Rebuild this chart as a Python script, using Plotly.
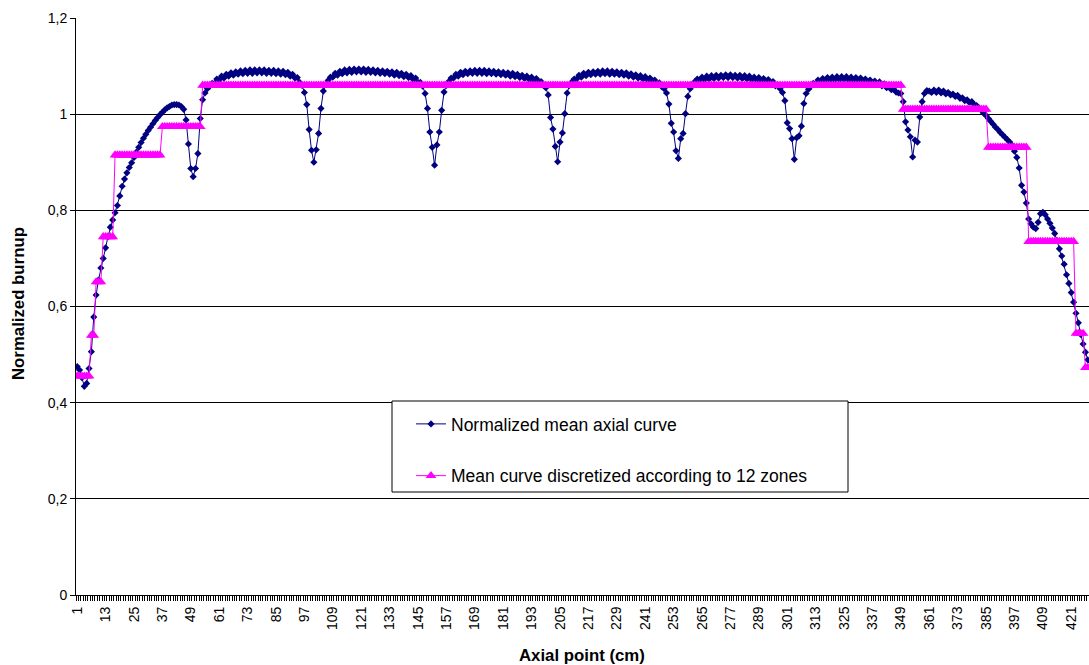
import plotly.graph_objects as go

# ---------------- data ----------------
# Normalized mean axial curve, split by region (axial points 1..428)
blue_rise = [0.475, 0.468, 0.452, 0.434, 0.440, 0.471, 0.506, 0.578, 0.624, 0.655,
             0.680, 0.700, 0.722, 0.745, 0.765, 0.780, 0.795, 0.810, 0.830, 0.850,
             0.865, 0.878, 0.889, 0.899, 0.910, 0.921, 0.931, 0.941, 0.950, 0.958,
             0.966, 0.973, 0.980, 0.987, 0.993, 0.999, 1.004, 1.009, 1.013, 1.016,
             1.019, 1.020, 1.020, 1.019, 1.016, 1.010, 0.988, 0.938, 0.887, 0.870,
             0.887, 0.918, 0.991]
blue_hump1 = [1.030, 1.044, 1.053, 1.058, 1.064, 1.064, 1.073, 1.071, 1.079, 1.075,
              1.083, 1.079, 1.086, 1.081, 1.088, 1.083, 1.090, 1.084, 1.091, 1.085,
              1.092, 1.085, 1.092, 1.086, 1.092, 1.086, 1.092, 1.085, 1.091, 1.085,
              1.091, 1.084, 1.090, 1.083, 1.089, 1.082, 1.087, 1.079, 1.083, 1.075,
              1.076, 1.066, 1.060]
blue_dip1 = [1.045, 1.020, 0.968, 0.925, 0.900, 0.926, 0.960, 1.012, 1.048]
blue_hump2 = [1.062, 1.070, 1.077, 1.077, 1.085, 1.081, 1.089, 1.084, 1.092, 1.086,
              1.093, 1.087, 1.094, 1.088, 1.094, 1.088, 1.094, 1.087, 1.093, 1.087,
              1.092, 1.086, 1.091, 1.085, 1.090, 1.084, 1.089, 1.083, 1.088, 1.081,
              1.087, 1.080, 1.085, 1.078, 1.083, 1.076, 1.080, 1.072, 1.075, 1.066,
              1.066, 1.058]
blue_dip2 = [1.043, 1.012, 0.963, 0.931, 0.894, 0.936, 0.963, 1.008, 1.046]
blue_hump3 = [1.060, 1.068, 1.075, 1.075, 1.083, 1.079, 1.087, 1.082, 1.089, 1.084,
              1.090, 1.085, 1.091, 1.085, 1.091, 1.085, 1.091, 1.084, 1.090, 1.084,
              1.089, 1.083, 1.088, 1.082, 1.087, 1.081, 1.086, 1.079, 1.085, 1.078,
              1.083, 1.076, 1.081, 1.074, 1.079, 1.072, 1.077, 1.070, 1.074, 1.067,
              1.068, 1.060, 1.055]
blue_dip3 = [1.040, 0.993, 0.969, 0.933, 0.901, 0.942, 0.961, 1.001, 1.044]
blue_hump4 = [1.060, 1.067, 1.073, 1.073, 1.081, 1.077, 1.085, 1.080, 1.087, 1.082,
              1.088, 1.083, 1.089, 1.083, 1.090, 1.084, 1.090, 1.083, 1.089, 1.083,
              1.088, 1.082, 1.087, 1.081, 1.086, 1.079, 1.084, 1.077, 1.082, 1.075,
              1.080, 1.073, 1.078, 1.070, 1.075, 1.067, 1.071, 1.063, 1.065, 1.057,
              1.053]
blue_dip4 = [1.044, 1.021, 0.981, 0.963, 0.924, 0.908, 0.949, 0.960, 1.001, 1.037, 1.053]
blue_hump5 = [1.062, 1.068, 1.073, 1.071, 1.077, 1.072, 1.079, 1.073, 1.080, 1.074,
              1.081, 1.075, 1.081, 1.076, 1.082, 1.076, 1.082, 1.076, 1.081, 1.075,
              1.081, 1.074, 1.080, 1.073, 1.079, 1.072, 1.077, 1.071, 1.076, 1.069,
              1.074, 1.067, 1.072, 1.064, 1.068, 1.059, 1.060, 1.053]
blue_dip5 = [1.045, 1.028, 0.982, 0.970, 0.949, 0.906, 0.951, 0.955, 0.975, 1.022, 1.043]
blue_hump6 = [1.052, 1.058, 1.064, 1.063, 1.071, 1.067, 1.074, 1.069, 1.076, 1.070,
              1.077, 1.071, 1.078, 1.072, 1.078, 1.072, 1.078, 1.071, 1.077, 1.071,
              1.076, 1.070, 1.075, 1.068, 1.073, 1.066, 1.071, 1.064, 1.069, 1.062,
              1.067, 1.059, 1.063, 1.055, 1.058, 1.051, 1.052, 1.046, 1.044]
blue_dip6 = [1.043, 1.026, 0.984, 0.967, 0.953, 0.911, 0.946, 0.942, 0.994, 1.026,
             1.043, 1.049]
blue_tail = [1.048, 1.045, 1.050, 1.045, 1.050, 1.044, 1.048, 1.042, 1.045, 1.040,
             1.042, 1.037, 1.039, 1.033, 1.034, 1.028, 1.030, 1.024, 1.026, 1.020,
             1.018, 1.013, 1.008, 1.002, 0.997, 0.991, 0.985, 0.979, 0.973, 0.968,
             0.962, 0.957, 0.952, 0.947, 0.942, 0.935, 0.923, 0.910, 0.888, 0.852,
             0.838, 0.815, 0.782, 0.772, 0.765, 0.762, 0.775, 0.793, 0.796, 0.791,
             0.782, 0.773, 0.763, 0.752, 0.737, 0.720, 0.705, 0.688, 0.666, 0.648,
             0.629, 0.609, 0.586, 0.566, 0.542, 0.522, 0.505, 0.489]

# 12 zones: first axial point of each zone and its mean value
zone_first_point = [1, 7, 9, 12, 17, 37, 54, 350, 386, 403, 423, 427]
zone_mean = [0.455, 0.540, 0.651, 0.745, 0.915, 0.974, 1.060, 1.010, 0.931, 0.735, 0.544, 0.473]

x_tick_labels = [1, 13, 25, 37, 49, 61, 73, 85, 97, 109, 121, 133, 145, 157, 169, 181,
                 193, 205, 217, 229, 241, 253, 265, 277, 289, 301, 313, 325, 337, 349,
                 361, 373, 385, 397, 409, 421]
y_tick_values = [0, 0.2, 0.4, 0.6, 0.8, 1.0, 1.2]
y_tick_labels = ["0", "0,2", "0,4", "0,6", "0,8", "1", "1,2"]

series_names = ["Normalized mean axial curve", "Mean curve discretized according to 12 zones"]

# ---------------- build series ----------------
blue = (blue_rise + blue_hump1 + blue_dip1 + blue_hump2 + blue_dip2 + blue_hump3 +
        blue_dip3 + blue_hump4 + blue_dip4 + blue_hump5 + blue_dip5 + blue_hump6 +
        blue_dip6 + blue_tail)
n = len(blue)
x = list(range(1, n + 1))

pink = []
for i in x:
    k = 0
    for j, s in enumerate(zone_first_point):
        if s <= i:
            k = j
    pink.append(zone_mean[k])

FONT = "Liberation Sans, Arial, sans-serif"

fig = go.Figure()
fig.add_trace(go.Scatter(
    x=x, y=blue, mode="lines+markers", name=series_names[0], legendgroup="g1",
    line=dict(color="#000080", width=1),
    marker=dict(symbol="diamond", size=5.5, color="#000080", line=dict(width=0)),
))
fig.add_trace(go.Scatter(
    x=x, y=pink, mode="lines+markers", name=series_names[1], legendgroup="g2",
    line=dict(color="#FF00FF", width=1),
    marker=dict(symbol="triangle-up", size=9.5, color="#FF00FF", line=dict(width=0)),
))

L, R, T, B = 76, 0, 18, 70
W, H = 1089, 665
pw, ph = W - L - R, H - T - B

def px2paper_x(p):
    return (p - L) / pw

def px2paper_y(p):
    return (H - B - p) / ph

fig.update_layout(
    width=W, height=H,
    margin=dict(l=L, r=R, t=T, b=B),
    paper_bgcolor="white", plot_bgcolor="white",
    font=dict(family=FONT, size=14, color="black"),
    showlegend=True,
    legend=dict(
        x=px2paper_x(411), y=px2paper_y(406), xanchor="left", yanchor="top",
        bgcolor="rgba(0,0,0,0)", borderwidth=0,
        font=dict(family=FONT, size=17.5, color="black"),
        traceorder="grouped", tracegroupgap=26,
    ),
    xaxis=dict(
        range=[0.5, n + 0.5],
        tickmode="array", tickvals=x_tick_labels, ticktext=[str(v) for v in x_tick_labels],
        tickangle=-90, ticks="outside", ticklen=5, tickcolor="rgba(0,0,0,0)",
        tickfont=dict(family=FONT, size=14, color="black"),
        showline=True, linecolor="black", linewidth=1,
        showgrid=False, zeroline=False,
        minor=dict(tickmode="linear", tick0=0.5, dtick=1, ticks="outside", ticklen=5,
                   tickcolor="black", tickwidth=1, showgrid=False),
    ),
    yaxis=dict(
        range=[0, 1.2],
        tickmode="array", tickvals=y_tick_values, ticktext=y_tick_labels,
        ticks="outside", ticklen=5, tickcolor="black",
        tickfont=dict(family=FONT, size=14, color="black"),
        showline=True, linecolor="black", linewidth=1,
        showgrid=True, gridcolor="black", gridwidth=1, zeroline=False,
    ),
    shapes=[dict(
        type="rect", xref="paper", yref="paper", layer="above",
        x0=px2paper_x(392), x1=px2paper_x(848), y0=px2paper_y(492), y1=px2paper_y(401),
        fillcolor="white", line=dict(color="black", width=1),
    )],
    annotations=[
        dict(text="<b>Axial point (cm)</b>", xref="paper", yref="paper",
             x=px2paper_x(582), y=px2paper_y(655), xanchor="center", yanchor="middle",
             showarrow=False, font=dict(family=FONT, size=16.8, color="black")),
        dict(text="<b>Normalized burnup</b>", xref="paper", yref="paper",
             x=px2paper_x(18), y=px2paper_y(304), xanchor="center", yanchor="middle",
             textangle=-90, showarrow=False, font=dict(family=FONT, size=16.8, color="black")),
    ],
)

fig.write_html(
    "out.html",
    config={"displayModeBar": False},
    post_script="document.body.style.margin='0px';document.body.style.overflow='hidden';",
)
